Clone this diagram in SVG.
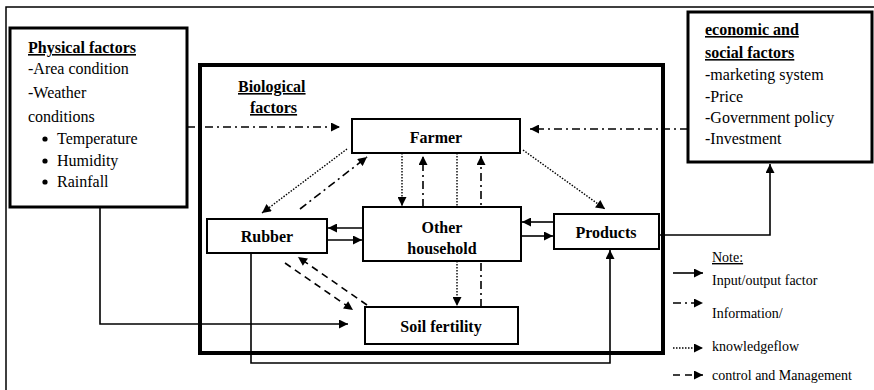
<svg xmlns="http://www.w3.org/2000/svg" width="874" height="390" viewBox="0 0 874 390" font-family="Liberation Serif, DejaVu Serif, Times New Roman, serif">
<style>
text{fill:#000}
.b{font-weight:bold}
.u{text-decoration:underline}
.t{font-size:16px}
.s{font-size:14px}
.box{fill:#fff;stroke:#000;stroke-width:2}
.solid{fill:none;stroke:#000;stroke-width:1.6}
.dd{fill:none;stroke:#000;stroke-width:1.6;stroke-dasharray:8,4,2,4}
.dot{fill:none;stroke:#000;stroke-width:1.4;stroke-dasharray:1.5,1.5}
.dash{fill:none;stroke:#000;stroke-width:1.6;stroke-dasharray:7,5}
</style>
<defs>
<marker id="ah" viewBox="0 0 10 10" refX="10" refY="5" markerWidth="10" markerHeight="9" markerUnits="userSpaceOnUse" orient="auto">
<path d="M0,0 L10,5 L0,10 Z" fill="#000"/>
</marker>
</defs>
<rect width="874" height="390" fill="#fff"/>
<path d="M6,390 V7 H874" fill="none" stroke="#000" stroke-width="1.5"/>

<g id="biological">
<rect x="200" y="65" width="463" height="288" fill="none" stroke="#000" stroke-width="4"/>
<text class="t b u" x="238" y="92">Biological</text>
<text class="t b u" x="250" y="113">factors</text>
</g>

<g id="connectors">
<path class="dd" d="M187,127 H340" marker-end="url(#ah)"/>
<path class="dd" d="M688,129 H530" marker-end="url(#ah)"/>
<path class="solid" d="M100,207 V324 H348" marker-end="url(#ah)"/>
<path class="dot" d="M347,149 L262,213" marker-end="url(#ah)"/>
<path class="dd" d="M300,209 L367,157" marker-end="url(#ah)"/>
<path class="dot" d="M402,153 V206" marker-end="url(#ah)"/>
<path class="dd" d="M423,207 V156" marker-end="url(#ah)"/>
<path class="dot" d="M457,153 V306" marker-end="url(#ah)"/>
<path class="dd" d="M481,307 V156" marker-end="url(#ah)"/>
<path class="dot" d="M523,150 L605,209" marker-end="url(#ah)"/>
<path class="solid" d="M363,228 H328" marker-end="url(#ah)"/>
<path class="solid" d="M327,240 H362" marker-end="url(#ah)"/>
<path class="solid" d="M554,222 H522" marker-end="url(#ah)"/>
<path class="solid" d="M521,236 H553" marker-end="url(#ah)"/>
<path class="dash" d="M285,263 L353,310" marker-end="url(#ah)"/>
<path class="dash" d="M367,305 L298,257" marker-end="url(#ah)"/>
<path class="solid" d="M251,253 V363 H610 V250" marker-end="url(#ah)"/>
<path class="solid" d="M659,235 H770 V164" marker-end="url(#ah)"/>
</g>

<g id="physical">
<rect x="10" y="28" width="177" height="179" fill="#fff" stroke="#000" stroke-width="3"/>
<text class="t b u" x="28" y="53">Physical factors</text>
<text class="t" x="28" y="74">-Area condition</text>
<text class="t" x="28" y="98">-Weather</text>
<text class="t" x="28" y="122">conditions</text>
<circle cx="45" cy="139" r="2.6"/>
<text class="t" x="57" y="144">Temperature</text>
<circle cx="45" cy="161" r="2.6"/>
<text class="t" x="57" y="166">Humidity</text>
<circle cx="45" cy="182" r="2.6"/>
<text class="t" x="57" y="187">Rainfall</text>
</g>

<g id="economic">
<rect x="688" y="12" width="184" height="150" fill="#fff" stroke="#000" stroke-width="3"/>
<text class="t b u" x="705" y="35">economic and</text>
<text class="t b u" x="705" y="58">social factors</text>
<text class="t" x="705" y="80">-marketing system</text>
<text class="t" x="705" y="102">-Price</text>
<text class="t" x="705" y="123">-Government policy</text>
<text class="t" x="705" y="144">-Investment</text>
</g>

<g id="farmer">
<rect class="box" x="352" y="119" width="168" height="34"/>
<text class="t b" x="436" y="143" text-anchor="middle">Farmer</text>
</g>

<g id="other">
<rect class="box" x="363" y="207" width="158" height="54"/>
<text class="t b" x="442" y="233" text-anchor="middle">Other</text>
<text class="t b" x="442" y="254" text-anchor="middle">household</text>
</g>

<g id="rubber">
<rect class="box" x="207" y="219" width="120" height="34"/>
<text class="t b" x="267" y="242" text-anchor="middle">Rubber</text>
</g>

<g id="soil">
<rect class="box" x="365" y="307" width="153" height="37"/>
<text class="t b" x="441" y="332" text-anchor="middle">Soil fertility</text>
</g>

<g id="products">
<rect class="box" x="554" y="214" width="105" height="35"/>
<text class="t b" x="606" y="238" text-anchor="middle">Products</text>
</g>

<g id="legend">
<text class="s u" x="712" y="262">Note:</text>
<path class="solid" d="M673,273 H703" marker-end="url(#ah)"/>
<text class="s" x="712" y="285">Input/output factor</text>
<path class="dd" d="M673,303 H703" marker-end="url(#ah)"/>
<text class="s" x="712" y="318">Information/</text>
<path class="dot" d="M673,348 H703" marker-end="url(#ah)"/>
<text class="s" x="712" y="351">knowledgeflow</text>
<path class="dash" d="M673,375 H703" marker-end="url(#ah)"/>
<text class="s" x="712" y="380">control and Management</text>
</g>
</svg>
